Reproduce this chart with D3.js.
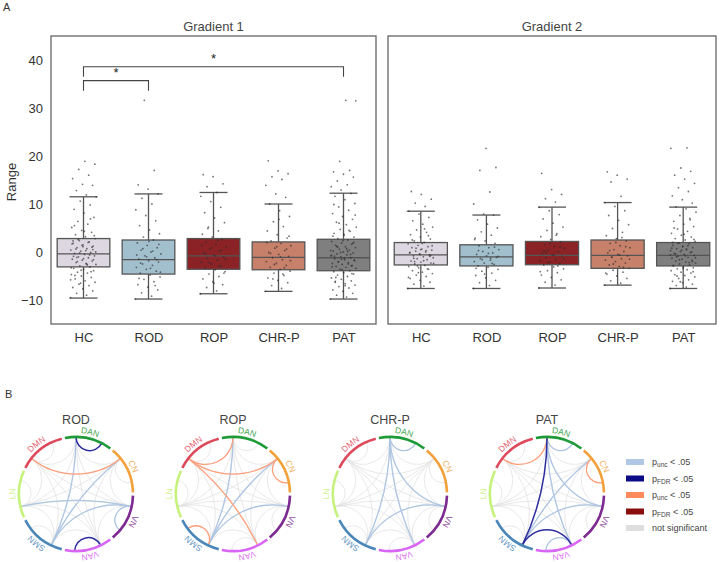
<!DOCTYPE html>
<html>
<head>
<meta charset="utf-8">
<script src="https://cdn.jsdelivr.net/npm/d3@7"></script>
<style>
  body { margin: 0; background: #fff; }
  svg { display: block; font-family: "Liberation Sans", Arial, sans-serif; }
</style>
</head>
<body>
<div id="figure"></div>
<script>
/*    Data    */
/**************/
const groups = ["HC", "ROD", "ROP", "CHR-P", "PAT"];
const groupColors = ["#ddd7e1", "#a2bfcd", "#8b2326", "#c7806a", "#7f7f7f"];
const gradientTitles = ["Gradient 1", "Gradient 2"];
const yTicks = [-10, 0, 10, 20, 30, 40];

// box stats: q1, median, q3, lower / upper whisker
const g1Q1 = [-3.1, -4.6, -3.6, -3.7, -3.9];
const g1Median = [-0.4, -1.6, -0.8, -1.1, -1.2];
const g1Q3 = [2.8, 2.5, 2.8, 2.1, 2.65];
const g1Low = [-9.6, -9.8, -8.7, -8.2, -9.8];
const g1High = [11.5, 12.1, 12.4, 10.0, 12.25];

const g2Q1 = [-2.7, -2.9, -2.65, -3.4, -2.9];
const g2Median = [-0.6, -1.0, -0.7, -0.7, -0.7];
const g2Q3 = [1.97, 1.5, 2.2, 2.5, 1.97];
const g2Low = [-7.6, -7.6, -7.5, -6.9, -7.6];
const g2High = [8.5, 7.7, 9.35, 10.3, 9.35];

// individual subjects (strip points)
const g1HC = [-9.5,-9.0,-8.6,-8.1,-7.7,-7.4,-7.0,-6.7,-6.3,-6.0,-5.6,-5.3,-5.0,-4.7,-4.4,-4.2,-3.9,-3.6,-3.4,-3.1,-2.9,-2.6,-2.4,-2.2,-1.9,-1.7,-1.5,-1.2,-1.0,-0.8,-0.5,-0.3,-0.1,0.2,0.4,0.7,0.9,1.2,1.5,1.8,2.1,2.4,2.8,3.2,3.6,4.1,4.5,5.1,5.8,6.4,7.2,8.1,8.9,9.8,10.6,11.5,11.9,12.8,13.9,14.1,15.3,16.0,17.2,18.3,18.9,
  -4.9,-4.1,-3.8,-3.3,-2.7,-2.0,-1.6,-1.4,-0.9,-0.6,-0.2,0.0,0.3,0.6,1.0,1.4,1.7,2.0,2.6,3.4,4.3,5.5,6.9,-6.5,-5.8,-2.5,-1.1,0.5,1.1,2.3];
const g1ROD = [-9.8,-9.2,-8.5,-7.9,-7.3,-6.8,-6.2,-5.7,-5.2,-4.8,-4.4,-4.0,-3.6,-3.2,-2.8,-2.5,-2.1,-1.8,-1.5,-1.2,-0.8,-0.4,0.0,0.4,0.9,1.4,1.9,2.5,3.1,3.8,4.6,5.5,6.5,7.6,8.8,10.0,11.2,12.1,13.1,14.0,17.0,31.6,
  -4.2,-3.4,-2.3,-1.6,-1.0,-0.6,0.2,0.7,1.6,2.2,-5.5,-7.0];
const g1ROP = [-8.7,-8.1,-7.4,-6.8,-6.2,-5.6,-5.1,-4.6,-4.1,-3.7,-3.3,-2.9,-2.5,-2.1,-1.7,-1.3,-1.0,-0.6,-0.2,0.2,0.6,1.1,1.6,2.1,2.6,3.1,3.7,4.4,5.2,6.1,7.1,8.2,9.3,10.5,11.6,12.4,13.6,14.2,15.7,16.1,
  -3.0,-2.2,-1.5,-0.8,-0.4,0.4,0.9,1.4,2.4,4.9,-4.4,-6.5];
const g1CHR = [-8.2,-7.6,-7.0,-6.4,-5.9,-5.4,-4.9,-4.4,-4.0,-3.6,-3.2,-2.8,-2.4,-2.0,-1.6,-1.2,-0.9,-0.5,-0.1,0.3,0.8,1.3,1.8,2.3,2.9,3.6,4.4,5.3,6.3,7.4,8.6,10.0,11.4,12.1,13.9,15.1,15.7,16.3,16.9,19.0,
  -3.3,-2.6,-1.8,-1.0,-0.3,0.6,1.1,2.0,-4.6,-5.6,3.3,6.8];
const g1PAT = [-9.8,-9.4,-9.0,-8.6,-8.2,-7.9,-7.5,-7.2,-6.9,-6.6,-6.3,-6.0,-5.7,-5.4,-5.1,-4.8,-4.6,-4.3,-4.1,-3.9,-3.6,-3.4,-3.2,-3.0,-2.8,-2.6,-2.4,-2.2,-2.0,-1.8,-1.6,-1.4,-1.2,-1.0,-0.8,-0.6,-0.4,-0.2,0.0,0.2,0.4,0.6,0.9,1.1,1.4,1.6,1.9,2.2,2.5,2.8,3.1,3.5,3.9,4.3,4.7,5.2,5.7,6.2,6.8,7.4,8.0,8.7,9.4,10.1,10.9,11.6,12.2,12.9,13.6,14.0,14.8,15.6,16.2,16.7,17.0,18.9,31.5,31.6,
  -5.3,-4.5,-3.7,-3.1,-2.5,-2.1,-1.7,-1.3,-0.9,-0.5,-0.1,0.3,0.7,1.2,1.8,2.4,3.3,4.5,6.0,7.7,-7.0,-6.1,-2.9,-1.5,-0.7,0.1,1.0,2.0,3.7,9.9];

const g2HC = [-7.6,-7.1,-6.7,-6.3,-5.9,-5.5,-5.1,-4.8,-4.5,-4.2,-3.9,-3.6,-3.3,-3.0,-2.8,-2.5,-2.3,-2.1,-1.9,-1.6,-1.4,-1.2,-1.0,-0.8,-0.6,-0.4,-0.2,0.0,0.2,0.4,0.6,0.9,1.1,1.4,1.7,2.0,2.3,2.7,3.1,3.6,4.1,4.6,5.2,5.8,6.5,7.2,7.9,8.5,9.5,10.2,11.0,12.0,12.6,
  -3.5,-2.9,-2.4,-1.8,-1.3,-0.9,-0.5,-0.1,0.3,0.8,1.3,1.8,2.5,3.4,-4.3,-5.3,4.8,-2.0,-0.7,0.5];
const g2ROD = [-7.6,-7.0,-6.4,-5.9,-5.4,-4.9,-4.4,-4.0,-3.6,-3.2,-2.9,-2.6,-2.3,-2.0,-1.7,-1.4,-1.1,-0.8,-0.5,-0.2,0.1,0.5,0.9,1.3,1.8,2.3,2.9,3.5,4.2,5.0,5.8,6.7,7.7,7.9,10.0,12.5,17.0,17.6,21.6,
  -3.4,-2.4,-1.6,-0.9,-0.3,0.3,1.0,-4.6,2.6,-1.3];
const g2ROP = [-7.5,-6.9,-6.3,-5.8,-5.3,-4.8,-4.3,-3.9,-3.5,-3.1,-2.7,-2.4,-2.1,-1.8,-1.5,-1.2,-0.9,-0.6,-0.3,0.0,0.4,0.8,1.2,1.6,2.1,2.6,3.2,3.8,4.5,5.2,6.0,6.9,7.8,8.6,9.3,10.4,11.1,12.0,13.0,16.4,
  -2.9,-2.2,-1.4,-0.7,0.2,1.0,1.8,-4.1,3.5,-0.1];
const g2CHR = [-6.9,-6.5,-6.0,-5.5,-5.0,-4.6,-4.2,-3.8,-3.4,-3.0,-2.7,-2.3,-2.0,-1.7,-1.4,-1.1,-0.8,-0.5,-0.2,0.1,0.5,0.9,1.3,1.8,2.3,2.8,3.4,4.1,4.9,5.7,6.6,7.6,8.6,9.5,10.3,11.6,14.6,15.2,16.0,16.7,
  -3.2,-2.5,-1.5,-0.6,0.3,1.1,2.0,-4.4,3.0,-1.0];
const g2PAT = [-7.6,-7.3,-7.0,-6.7,-6.4,-6.1,-5.8,-5.5,-5.2,-4.9,-4.7,-4.4,-4.2,-3.9,-3.7,-3.5,-3.3,-3.1,-2.9,-2.7,-2.5,-2.3,-2.1,-1.9,-1.7,-1.5,-1.3,-1.1,-0.9,-0.7,-0.5,-0.3,-0.1,0.1,0.3,0.5,0.7,0.9,1.2,1.4,1.7,1.9,2.2,2.5,2.8,3.1,3.5,3.9,4.3,4.8,5.3,5.8,6.4,7.0,7.6,8.3,9.0,9.4,10.2,10.9,11.7,12.6,13.4,14.3,15.2,16.0,16.8,17.5,21.6,21.7,
  -5.0,-4.1,-3.4,-2.8,-2.2,-1.6,-1.2,-0.8,-0.4,0.0,0.4,0.8,1.3,1.8,2.6,3.7,5.0,6.7,-6.2,-0.6,0.6,-1.0,-2.0,1.1,2.0];

// significance brackets (gradient 1 only)
const sigPairs = [["HC", "ROD"], ["HC", "PAT"]];
const sigLevels = [35.7, 38.6];

// panel B
const networks = ["DAN", "CN", "VN", "VAN", "SMN", "LN", "DMN"];
const networkColors = ["#1f9a38", "#f2a03a", "#7d2b91", "#d865f4", "#4b86b9", "#c6f27c", "#de4a5c"];
const conditions = ["ROD", "ROP", "CHR-P", "PAT"];

const rodUncNeg = [["DAN","SMN"], ["SMN","CN"], ["SMN","VN"], ["LN","VN"], ["VN","VN"]];
const rodFdrNeg = [["DAN","DAN"], ["VAN","VAN"]];
const rodUncPos = [["DMN","CN"]];
const ropUncNeg = [["DAN","SMN"], ["SMN","VN"], ["SMN","CN"]];
const ropFdrNeg = [];
const ropUncPos = [["DMN","DAN"], ["DMN","CN"], ["DMN","VAN"], ["CN","CN"], ["SMN","SMN"]];
const chrUncNeg = [["DAN","DAN"], ["DAN","SMN"], ["DAN","VAN"], ["DAN","VN"], ["SMN","VN"]];
const chrFdrNeg = [];
const chrUncPos = [];
const patUncNeg = [["DAN","DAN"], ["VAN","VAN"], ["DAN","VN"], ["SMN","CN"], ["SMN","VN"], ["DAN","VAN"]];
const patFdrNeg = [["DAN","SMN"], ["SMN","VAN"]];
const patUncPos = [["DMN","DAN"], ["CN","CN"]];

const legendColors = ["#b0c8e6", "#0b0b85", "#ff8a5c", "#8a0e0e", "#dedede"];
const legendSubs = ["unc", "FDR", "unc", "FDR", null];


/*    Containers    */
/********************/
const width = 720;
const height = 562;
const svg = d3.select("#figure")
  .append("svg")
    .attr("width", width)
    .attr("height", height);

svg.append("text").text("A").attr("x", 3).attr("y", 11)
  .attr("font-size", 11).attr("fill", "#333");
svg.append("text").text("B").attr("x", 5).attr("y", 398)
  .attr("font-size", 11).attr("fill", "#333");


/*    Panel A: box + strip plots    */
/************************************/
const panelX = [[51, 376], [388, 716]];
const panelTop = 36;
const panelBottom = 324;

const yScale = d3.scaleLinear()
  .domain([-15, 45])
  .range([panelBottom, panelTop]);

const stats = [
  {q1: g1Q1, med: g1Median, q3: g1Q3, lo: g1Low, hi: g1High, pts: [g1HC, g1ROD, g1ROP, g1CHR, g1PAT]},
  {q1: g2Q1, med: g2Median, q3: g2Q3, lo: g2Low, hi: g2High, pts: [g2HC, g2ROD, g2ROP, g2CHR, g2PAT]}
];

stats.forEach((s, g) => {
  const xScale = d3.scalePoint()
    .domain(groups)
    .range(panelX[g])
    .padding(0.5);
  const step = xScale.step();
  const boxW = step * 0.81;
  const capW = 28;

  const panel = svg.append("g");

  panel.append("text")
    .text(gradientTitles[g])
    .attr("x", (panelX[g][0] + panelX[g][1]) / 2)
    .attr("y", 31)
    .attr("text-anchor", "middle")
    .attr("font-size", 13)
    .attr("fill", "#444");

  const boxes = panel.selectAll("g.box")
    .data(groups)
    .join("g")
      .attr("class", "box");

  // whiskers
  boxes.append("line")
    .attr("x1", d => xScale(d)).attr("x2", d => xScale(d))
    .attr("y1", (d, i) => yScale(s.q3[i])).attr("y2", (d, i) => yScale(s.hi[i]))
    .attr("stroke", "#555").attr("stroke-width", 1.3);
  boxes.append("line")
    .attr("x1", d => xScale(d)).attr("x2", d => xScale(d))
    .attr("y1", (d, i) => yScale(s.q1[i])).attr("y2", (d, i) => yScale(s.lo[i]))
    .attr("stroke", "#555").attr("stroke-width", 1.3);
  boxes.append("line")
    .attr("x1", d => xScale(d) - capW / 2).attr("x2", d => xScale(d) + capW / 2)
    .attr("y1", (d, i) => yScale(s.hi[i])).attr("y2", (d, i) => yScale(s.hi[i]))
    .attr("stroke", "#555").attr("stroke-width", 1.3);
  boxes.append("line")
    .attr("x1", d => xScale(d) - capW / 2).attr("x2", d => xScale(d) + capW / 2)
    .attr("y1", (d, i) => yScale(s.lo[i])).attr("y2", (d, i) => yScale(s.lo[i]))
    .attr("stroke", "#555").attr("stroke-width", 1.3);

  boxes.append("rect")
    .attr("x", d => xScale(d) - boxW / 2)
    .attr("width", boxW)
    .attr("y", (d, i) => yScale(s.q3[i]))
    .attr("height", (d, i) => yScale(s.q1[i]) - yScale(s.q3[i]))
    .attr("fill", (d, i) => groupColors[i])
    .attr("stroke", "#555")
    .attr("stroke-width", 1.3);

  boxes.append("line")
    .attr("x1", d => xScale(d) - boxW / 2).attr("x2", d => xScale(d) + boxW / 2)
    .attr("y1", (d, i) => yScale(s.med[i])).attr("y2", (d, i) => yScale(s.med[i]))
    .attr("stroke", "#555").attr("stroke-width", 1.3);

  // strip points, spread sideways by index
  groups.forEach((grp, i) => {
    panel.append("g")
      .selectAll("circle")
      .data(s.pts[i])
      .join("circle")
        .attr("cx", (d, k) => xScale(grp) + ((k * 0.618034) % 1 - 0.5) * 26)
        .attr("cy", d => yScale(d))
        .attr("r", 0.9)
        .attr("fill", "#2b2b2b")
        .attr("opacity", 0.65);
  });

  // frame
  panel.append("rect")
    .attr("x", panelX[g][0])
    .attr("y", panelTop)
    .attr("width", panelX[g][1] - panelX[g][0])
    .attr("height", panelBottom - panelTop)
    .attr("fill", "none")
    .attr("stroke", "#666")
    .attr("stroke-width", 1.3);

  const xAxis = panel.append("g")
    .attr("transform", `translate(0, ${panelBottom})`)
    .call(d3.axisBottom(xScale).tickSize(0).tickPadding(9));
  xAxis.select(".domain").remove();
  xAxis.selectAll("text")
    .attr("font-size", 13)
    .attr("font-family", "Liberation Sans, Arial, sans-serif")
    .attr("fill", "#333");

  if (g === 0) {
    const yAxis = panel.append("g")
      .attr("transform", `translate(${panelX[0][0]}, 0)`)
      .call(d3.axisLeft(yScale).tickValues(yTicks).tickSize(0).tickPadding(8));
    yAxis.select(".domain").remove();
    yAxis.selectAll("text")
      .attr("font-size", 13)
      .attr("font-family", "Liberation Sans, Arial, sans-serif")
      .attr("fill", "#333");

    panel.append("text")
      .text("Range")
      .attr("transform", `translate(16, 182) rotate(-90)`)
      .attr("text-anchor", "middle")
      .attr("font-size", 13)
      .attr("fill", "#333");

    // significance brackets
    sigPairs.forEach((pair, j) => {
      const x1 = xScale(pair[0]);
      const x2 = xScale(pair[1]);
      const yl = yScale(sigLevels[j]);
      panel.append("path")
        .attr("d", `M${x1},${yl + 10}V${yl}H${x2}V${yl + 10}`)
        .attr("fill", "none")
        .attr("stroke", "#444")
        .attr("stroke-width", 1.1);
      panel.append("text")
        .text("*")
        .attr("x", (x1 + x2) / 2)
        .attr("y", yl - 4)
        .attr("text-anchor", "middle")
        .attr("font-size", 13)
        .attr("fill", "#222");
    });
  }
});


/*    Panel B: network circles    */
/**********************************/
const R = 57;
const cy = 494;
const cxScale = d3.scalePoint()
  .domain(conditions)
  .range([76, 547]);

const stepDeg = 360 / networks.length;
const nodeAngle = name => networks.indexOf(name) * stepDeg;
const toRad = a => a * Math.PI / 180;

const edgeTable = [
  {uncNeg: rodUncNeg, fdrNeg: rodFdrNeg, uncPos: rodUncPos},
  {uncNeg: ropUncNeg, fdrNeg: ropFdrNeg, uncPos: ropUncPos},
  {uncNeg: chrUncNeg, fdrNeg: chrFdrNeg, uncPos: chrUncPos},
  {uncNeg: patUncNeg, fdrNeg: patFdrNeg, uncPos: patUncPos}
];

const allPairs = [];
networks.forEach((a, i) => networks.forEach((b, j) => { if (j >= i) allPairs.push([a, b]); }));

// geodesic chord: circular arc tangent to the two radii
const chordPath = (pair) => {
  let a = nodeAngle(pair[0]);
  let b = nodeAngle(pair[1]);
  if (pair[0] === pair[1]) b = a + 27;
  let d = Math.abs(b - a) % 360;
  if (d > 180) d = 360 - d;
  const p = d3.path();
  const x1 = R * Math.sin(toRad(a)), y1 = -R * Math.cos(toRad(a));
  const x2 = R * Math.sin(toRad(b)), y2 = -R * Math.cos(toRad(b));
  p.moveTo(x1, y1);
  if (Math.abs(d - 180) < 2) p.lineTo(x2, y2);
  else p.arcTo(0, 0, x2, y2, R * Math.tan(toRad(d / 2)));
  return p.toString();
};

const segArc = d3.arc()
  .innerRadius(R - 1.3)
  .outerRadius(R + 1.3);

conditions.forEach((cond, c) => {
  const g = svg.append("g")
    .attr("transform", `translate(${cxScale(cond)}, ${cy})`);

  g.append("text")
    .text(cond)
    .attr("x", 0)
    .attr("y", -70)
    .attr("text-anchor", "middle")
    .attr("font-size", 12.5)
    .attr("fill", "#444");

  const layers = [
    {pairs: allPairs, color: "#e2e2e2", w: 1, op: 0.8},
    {pairs: edgeTable[c].uncNeg, color: "#aec6e3", w: 1.3, op: 1},
    {pairs: edgeTable[c].uncPos, color: "#ffa07c", w: 1.3, op: 1},
    {pairs: edgeTable[c].fdrNeg, color: "#2e2ea0", w: 1.5, op: 1}
  ];
  layers.forEach(layer => {
    g.append("g")
      .selectAll("path")
      .data(layer.pairs)
      .join("path")
        .attr("d", chordPath)
        .attr("fill", "none")
        .attr("stroke", layer.color)
        .attr("stroke-width", layer.w)
        .attr("opacity", layer.op);
  });

  g.append("g")
    .selectAll("path")
    .data(networks)
    .join("path")
      .attr("d", d => segArc({
        startAngle: toRad(nodeAngle(d) - stepDeg / 4 + 1.6),
        endAngle: toRad(nodeAngle(d) + stepDeg * 0.75 - 1.6)
      }))
      .attr("fill", (d, i) => networkColors[i]);

  const labelR = R + 4;
  g.append("path")
    .attr("id", `ring${c}`)
    .attr("d", `M0,${-labelR}A${labelR},${labelR} 0 1,1 0,${labelR}A${labelR},${labelR} 0 1,1 0,${-labelR}`)
    .attr("fill", "none");

  g.append("g")
    .selectAll("text")
    .data(networks)
    .join("text")
      .attr("font-size", 8.5)
      .attr("fill", (d, i) => networkColors[i])
      .attr("opacity", 0.85)
      .attr("text-anchor", "middle")
    .append("textPath")
      .attr("href", `#ring${c}`)
      .attr("startOffset", d => `${(nodeAngle(d) + stepDeg / 4) / 360 * 100}%`)
      .text(d => d);
});

// legend
const legendY = d3.scalePoint()
  .domain(d3.range(legendColors.length))
  .range([462, 528]);

const legend = svg.append("g");
legendColors.forEach((col, i) => {
  legend.append("rect")
    .attr("x", 626)
    .attr("y", legendY(i) - 3)
    .attr("width", 18)
    .attr("height", 6)
    .attr("fill", col);
  const t = legend.append("text")
    .attr("x", 652)
    .attr("y", legendY(i) + 3)
    .attr("font-size", 9)
    .attr("fill", "#444");
  if (legendSubs[i]) {
    t.append("tspan").text("p");
    t.append("tspan").text(legendSubs[i])
      .attr("font-size", 6.5)
      .attr("dy", 2);
    t.append("tspan").text(" < .05").attr("dy", -2);
  } else {
    t.text("not significant");
  }
});
</script>
</body>
</html>
